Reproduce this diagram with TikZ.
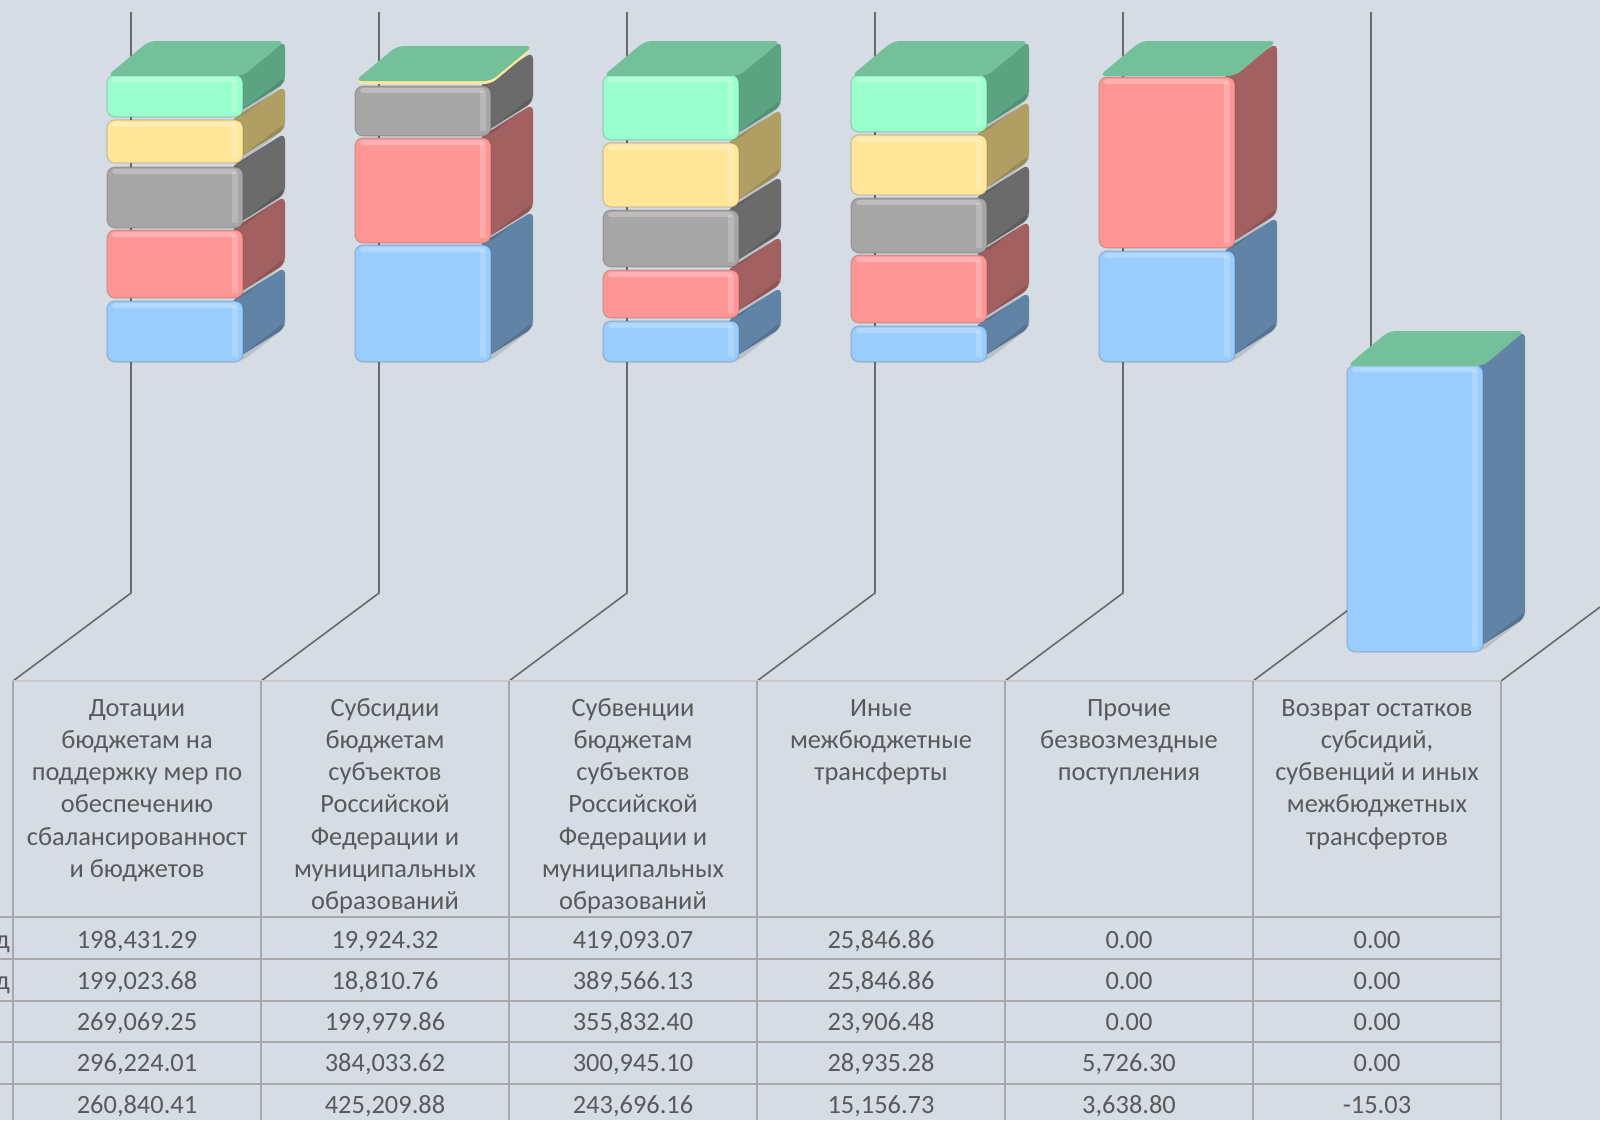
\documentclass[tikz,border=0pt]{standalone}
\usepackage{fontspec}
\setmainfont{Carlito}
\definecolor{bg}{RGB}{214,220,228}
\definecolor{txt}{RGB}{89,89,89}
\definecolor{axisline}{RGB}{105,105,105}
\definecolor{gridc}{RGB}{168,168,168}
\definecolor{gridt}{RGB}{200,200,200}
\definecolor{bluef}{RGB}{153,204,255}
\definecolor{blues}{RGB}{97,132,166}
\definecolor{redf}{RGB}{255,150,150}
\definecolor{reds}{RGB}{163,96,96}
\definecolor{grayf}{RGB}{166,166,166}
\definecolor{grays}{RGB}{107,107,107}
\definecolor{yelf}{RGB}{255,230,153}
\definecolor{yels}{RGB}{176,158,98}
\definecolor{grnf}{RGB}{153,255,204}
\definecolor{grns}{RGB}{92,163,130}
\definecolor{grnt}{RGB}{115,192,154}
% block: xl, yt, yb, colour prefix
\newcommand{\blk}[4]{%
  \pgfmathsetmacro{\bxr}{#1+136}%
  \fill[#4s, rounded corners=7pt] (\bxr-12,#2) -- (\bxr+42,#2-34) -- (\bxr+42,#3-34) -- (\bxr-12,#3) -- cycle;
  \fill[black, opacity=.12, rounded corners=6pt] (\bxr-2,#3) -- (\bxr+42,#3-34) -- (\bxr+42,#3-40) -- (\bxr-2,#3-6) -- cycle;
  \fill[#4f, rounded corners=8pt] (#1,#2) rectangle (\bxr,#3);
  \fill[white, opacity=.25, rounded corners=3pt] (#1+5,#2+2) rectangle (\bxr-6,#2+7);
  \fill[white, opacity=.2] (\bxr-11,#2+5) rectangle (\bxr-5,#3-5);
  \draw[black, opacity=.15, line width=1.2pt, rounded corners=8pt] (#1,#2) rectangle (\bxr,#3);
}
% top face: xl, yt, colour
\newcommand{\tface}[3]{%
  \pgfmathsetmacro{\bxr}{#1+136}%
  \fill[#3, rounded corners=7pt] (#1,#2+1) -- (#1+42,#2-34) -- (\bxr+42,#2-34) -- (\bxr,#2+1) -- cycle;
}
\newcommand{\hdr}[3]{%
  \foreach \t [count=\i] in {#3} {\node[hd] (h#1-\i) at (#2,{716+32.3*(\i-1)}) {\t};}
}
\newcommand{\drow}[2]{%
  \foreach \v [count=\k] in {#2} {\node[hd] (d#1-\k) at ({137+248*(\k-1)},{948+41.3*(#1-1)}) {\v};}
}
\begin{document}
\begin{tikzpicture}[x=1pt,y=-1pt,
  hd/.style={anchor=base, inner sep=0pt, text=txt, font=\fontsize{26.4}{32.3}\selectfont},
  wall/.style={draw=axisline, line width=1.6pt},
  gridl/.style={draw=gridc, line width=1.6pt}]
\fill[bg] (0,0) rectangle (1600,1120);
\useasboundingbox (0,0) rectangle (1600,1120);
% walls
\foreach \k in {0,...,5} {
  \coordinate (wt\k) at ({131+248*\k},12);
  \coordinate (wm\k) at ({131+248*\k},593);
  \coordinate (wb\k) at ({13+248*\k},681);
  \draw[wall] (wt\k) -- (wm\k) -- (wb\k);
}
\coordinate (wb6) at (1501,681);
\coordinate (we6) at (1600,607);
\draw[wall] (wb6) -- (we6);
% bar 1
\blk{107}{301}{362}{blue}
\blk{107}{230}{298}{red}
\blk{107}{167}{228}{gray}
\blk{107}{120}{163}{yel}
\blk{107}{75}{117}{grn}
\tface{107}{75}{grnt}
% bar 2
\blk{355}{245}{362}{blue}
\blk{355}{138}{243}{red}
\blk{355}{86}{136}{gray}
\tface{355}{83}{yelf}
\tface{355}{80}{grnt}
% bar 3
\blk{603}{321}{362}{blue}
\blk{603}{270}{318}{red}
\blk{603}{210}{267}{gray}
\blk{603}{143}{207}{yel}
\blk{603}{75}{140}{grn}
\tface{603}{75}{grnt}
% bar 4
\blk{851}{326}{362}{blue}
\blk{851}{255}{323}{red}
\blk{851}{198}{253}{gray}
\blk{851}{135}{195}{yel}
\blk{851}{75}{132}{grn}
\tface{851}{75}{grnt}
% bar 5
\blk{1099}{251}{362}{blue}
\blk{1099}{77}{248}{red}
\tface{1099}{75}{grnt}
% bar 6
\blk{1347}{365}{652}{blue}
\tface{1347}{365}{grnt}
% table grid
\draw[draw=gridt, line width=1.6pt] (13,681) -- (1501,681);
\foreach \x in {13,261,509,757,1005,1253,1501} {\draw[gridl] (\x,681) -- (\x,1120);}
\foreach \y in {917,959,1001,1042,1084} {\draw[gridl] (0,\y) -- (1501,\y);}
% header
\hdr{1}{137}{Дотации, бюджетам на, поддержку мер по, обеспечению, сбалансированност, и бюджетов}
\hdr{2}{385}{Субсидии, бюджетам, субъектов, Российской, Федерации и, муниципальных, образований}
\hdr{3}{633}{Субвенции, бюджетам, субъектов, Российской, Федерации и, муниципальных, образований}
\hdr{4}{881}{Иные, межбюджетные, трансферты}
\hdr{5}{1129}{Прочие, безвозмездные, поступления}
\hdr{6}{1377}{Возврат остатков, {субсидий,}, субвенций и иных, межбюджетных, трансфертов}
% data
\drow{1}{{198,431.29},{19,924.32},{419,093.07},{25,846.86},0.00,0.00}
\drow{2}{{199,023.68},{18,810.76},{389,566.13},{25,846.86},0.00,0.00}
\drow{3}{{269,069.25},{199,979.86},{355,832.40},{23,906.48},0.00,0.00}
\drow{4}{{296,224.01},{384,033.62},{300,945.10},{28,935.28},{5,726.30},0.00}
\drow{5}{{260,840.41},{425,209.88},{243,696.16},{15,156.73},{3,638.80},-15.03}
\node[hd, anchor=base east] (lab1) at (10,948) {д};
\node[hd, anchor=base east] (lab2) at (10,989.3) {д};
\end{tikzpicture}
\end{document}
